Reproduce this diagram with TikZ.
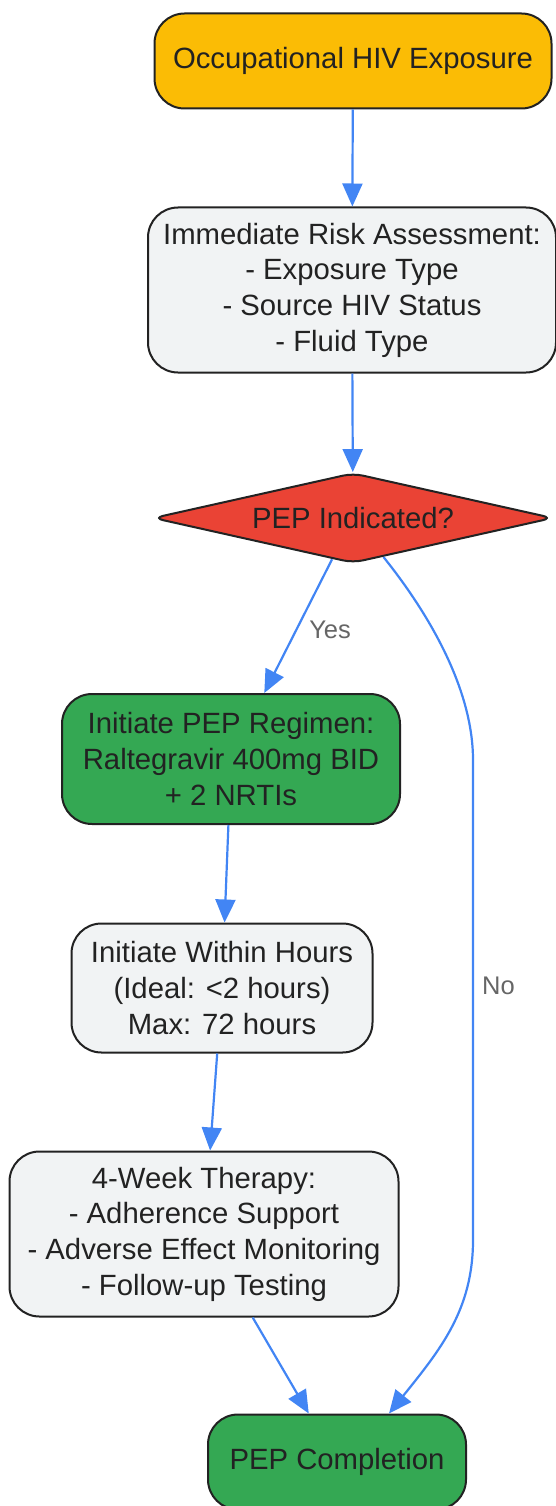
\documentclass[tikz,border=0pt]{standalone}
\usepackage{fontspec}
\setmainfont{Liberation Sans}
\usetikzlibrary{arrows.meta,shapes.geometric}
\definecolor{pep_yellow}{HTML}{FBBC05}
\definecolor{pep_grey}{HTML}{F1F3F4}
\definecolor{pep_red}{HTML}{EA4335}
\definecolor{pep_green}{HTML}{34A853}
\definecolor{pep_blue}{HTML}{4285F4}
\definecolor{pep_ink}{HTML}{222222}
\definecolor{pep_label}{HTML}{666666}
\tikzstyle{box}=[rectangle,rounded corners=30pt,draw=pep_ink,text=pep_ink,
  line width=2pt,inner sep=0pt,align=center,font=\fontsize{29.3}{35.7}\selectfont]
\tikzstyle{yn}=[box,fill=pep_yellow]
\tikzstyle{wn}=[box,fill=pep_grey]
\tikzstyle{gn}=[box,fill=pep_green]
\tikzstyle{rn}=[diamond,aspect=4.4,rounded corners=10pt,fill=pep_red,draw=pep_ink,text=pep_ink,
  line width=2pt,inner sep=0pt,minimum width=400pt,minimum height=90pt,font=\fontsize{29.3}{35.7}\selectfont]
\tikzstyle{flow}=[draw=pep_blue,line width=2.2pt,-{Triangle[length=23pt,width=20pt]}]
\tikzstyle{lbl}=[text=pep_label,inner sep=0pt,font=\fontsize{25.5}{30}\selectfont]

\begin{document}
\begin{tikzpicture}[x=1pt,y=-1pt]
    \useasboundingbox (0,0) rectangle (556,1506);
    \node [style=yn, minimum width=397pt, minimum height=95pt] (expo) at (353, 61) {Occupational HIV Exposure};
    \node [style=wn, minimum width=408pt, minimum height=165pt] (risk) at (352, 290) {Immediate Risk Assessment:\\- Exposure Type\\- Source HIV Status\\- Fluid Type};
    \node [style=rn] (ind) at (353, 518) {PEP Indicated?};
    \node [style=gn, minimum width=338pt, minimum height=130pt] (regimen) at (231, 759) {Initiate PEP Regimen:\\Raltegravir 400mg BID\\+ 2 NRTIs};
    \node [style=wn, minimum width=301pt, minimum height=129pt] (timing) at (222, 988) {Initiate Within Hours\\(Ideal: <2 hours)\\Max: 72 hours};
    \node [style=wn, minimum width=389pt, minimum height=165pt] (therapy) at (204, 1234) {4-Week Therapy:\\- Adherence Support\\- Adverse Effect Monitoring\\- Follow-up Testing};
    \node [style=gn, minimum width=258pt, minimum height=95pt] (done) at (337, 1462) {PEP Completion};
    \coordinate (nobend1) at (473, 760);
    \coordinate (nobend2) at (473, 1240);
    \draw [style=flow] (expo) to (risk);
    \draw [style=flow] (risk) to (ind);
    \draw [style=flow] (ind) to node [style=lbl, pos=0.53, right=12pt] {Yes} (regimen);
    \draw [style=flow] (regimen) to (timing);
    \draw [style=flow] (timing) to (therapy);
    \draw [style=flow] (therapy) to (done);
    \draw [style=flow] (ind.-52) .. controls (430, 615) and (473, 690) .. (nobend1)
        -- node [style=lbl, pos=0.47, right=8pt] {No} (nobend2)
        .. controls (473, 1310) and (440, 1350) .. (done.43);
\end{tikzpicture}
\end{document}
